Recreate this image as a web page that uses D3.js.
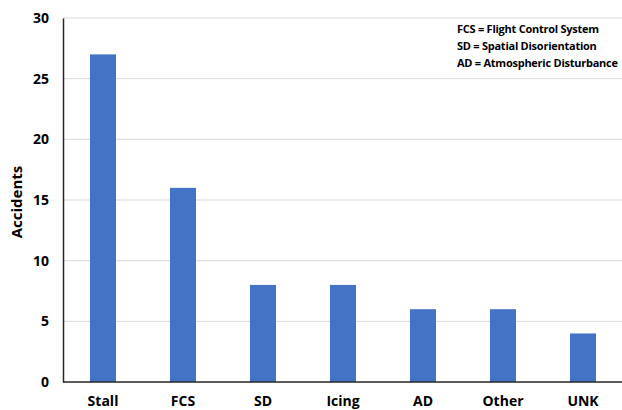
<!DOCTYPE html>
<html>
<head>
<meta charset="utf-8">
<script src="https://cdn.jsdelivr.net/npm/d3@7"></script>
<style>
  body { margin: 0; background: #fff; }
  text { font-family: "Open Sans", "Noto Sans", sans-serif; font-weight: bold; fill: #000; }
</style>
</head>
<body>
<script>
'use strict';

// chart data
const categories = ["Stall", "FCS", "SD", "Icing", "AD", "Other", "UNK"];
const accidents = [27, 16, 8, 8, 6, 6, 4];
const yTicks = [0, 5, 10, 15, 20, 25, 30];
const legendLines = ["FCS = Flight Control System", "SD = Spatial Disorientation", "AD = Atmospheric Disturbance"];

(function() {

  const width = 622, height = 410;
  const plotLeft = 63, plotRight = 623, plotTop = 18, plotBottom = 382;

  const svg = d3.select('body').append('svg')
    .attr('width', width)
    .attr('height', height);

  const xScale = d3.scaleBand()
    .domain(categories)
    .range([plotLeft, plotRight])
    .paddingInner(0.675)
    .paddingOuter(0.3375);

  const yScale = d3.scaleLinear()
    .domain([0, 30])
    .range([plotBottom, plotTop]);

  // gridlines
  svg.append('g')
    .selectAll('line')
    .data(yTicks.filter(d => d > 0))
    .enter()
    .append('line')
    .attr('x1', plotLeft)
    .attr('x2', width)
    .attr('y1', d => yScale(d))
    .attr('y2', d => yScale(d))
    .attr('stroke', '#d9d9d9')
    .attr('stroke-width', 1);

  // bars
  svg.selectAll('.bar')
    .data(categories)
    .enter()
    .append('rect')
    .attr('class', 'bar')
    .attr('x', d => xScale(d))
    .attr('width', xScale.bandwidth())
    .attr('y', (d, i) => yScale(accidents[i]))
    .attr('height', (d, i) => plotBottom - yScale(accidents[i]))
    .attr('fill', '#4472c4');

  // y axis
  const yAxis = svg.append('g')
    .attr('transform', 'translate(' + plotLeft + ',0)')
    .call(d3.axisLeft(yScale).tickValues(yTicks).tickSize(0).tickPadding(14));
  yAxis.select('.domain').attr('stroke', '#262626').attr('stroke-width', 1.5);
  yAxis.selectAll('text').style('font-size', '14px').style('font-family', '"Open Sans", sans-serif').style('font-weight', 'bold');

  // x axis
  const xAxis = svg.append('g')
    .attr('transform', 'translate(0,' + plotBottom + ')')
    .call(d3.axisBottom(xScale).tickSize(0).tickPadding(14));
  xAxis.select('.domain').attr('d', 'M' + plotLeft + ',0H' + width).attr('stroke', '#262626').attr('stroke-width', 1.5);
  xAxis.selectAll('text').style('font-size', '14px').style('font-family', '"Open Sans", sans-serif').style('font-weight', 'bold');

  // y label
  svg.append('text')
    .attr('transform', 'translate(22, 202)rotate(-90)')
    .attr('text-anchor', 'middle')
    .style('font-size', '15px')
    .text('Accidents');

  // legend notes
  svg.append('g')
    .selectAll('text')
    .data(legendLines)
    .enter()
    .append('text')
    .attr('x', 457)
    .attr('y', (d, i) => 33 + i * 17)
    .style('font-size', '11px')
    .style('letter-spacing', '-0.25px')
    .text(d => d);

})();
</script>
</body>
</html>
